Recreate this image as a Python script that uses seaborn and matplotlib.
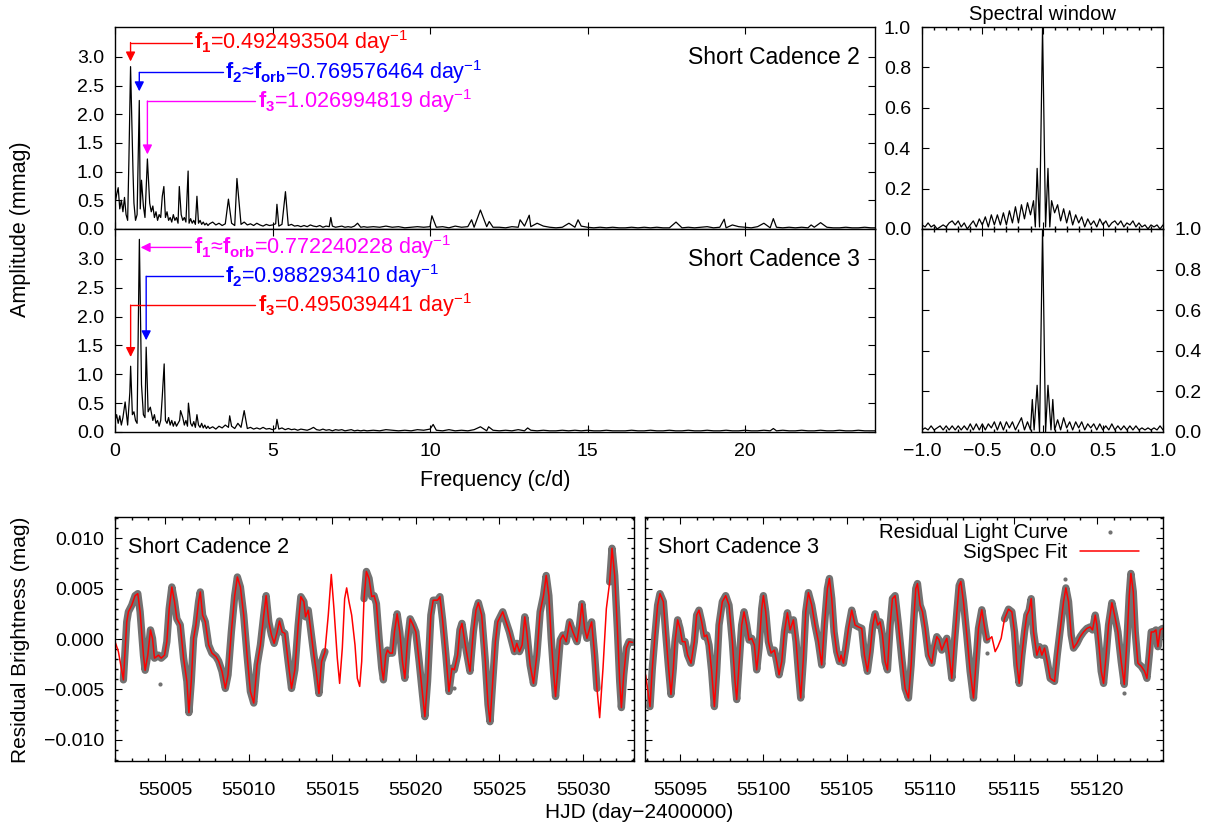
import numpy as np
import matplotlib
matplotlib.use("Agg")
import matplotlib.pyplot as plt
from matplotlib.ticker import MultipleLocator, FixedLocator, FuncFormatter
import seaborn as sns

# ---------------- amplitude spectra (frequency in c/d, amplitude in mmag) ----------------
f_lo = np.round(np.arange(0.0, 3.001, 0.05), 3)
f_mid = np.round(np.arange(3.1, 8.001, 0.1), 3)
f_hi = np.round(np.arange(8.2, 24.201, 0.2), 3)

sc2_noise_lo = [0.45, 0.60, 0.72, 0.35, 0.50, 0.30, 0.55, 0.25, 0.15, 0.30,
                0.35, 0.20, 0.45, 0.15, 0.25, 0.10, 0.35, 0.30, 0.40, 0.20,
                0.35, 0.25, 0.45, 0.30, 0.40, 0.20, 0.30, 0.15, 0.25, 0.20,
                0.15, 0.15, 0.20, 0.30, 0.15, 0.20, 0.12, 0.25, 0.15, 0.20,
                0.10, 0.20, 0.25, 0.15, 0.20, 0.12, 0.15, 0.10, 0.18, 0.10,
                0.15, 0.08, 0.12, 0.10, 0.15, 0.08, 0.12, 0.07, 0.10, 0.06,
                0.09]
sc2_noise_mid = [0.12, 0.07, 0.10, 0.06, 0.09, 0.08, 0.10, 0.06, 0.12, 0.08,
                 0.12, 0.07, 0.09, 0.06, 0.10, 0.07, 0.05, 0.08, 0.06, 0.07,
                 0.09, 0.05, 0.08, 0.10, 0.06, 0.08, 0.05, 0.06, 0.04, 0.06,
                 0.04, 0.07, 0.05, 0.04, 0.06, 0.03, 0.05, 0.04, 0.05, 0.03,
                 0.04, 0.05, 0.03, 0.04, 0.03, 0.05, 0.04, 0.03, 0.04, 0.03]
sc2_noise_hi = [0.04, 0.03, 0.05, 0.03, 0.04, 0.02, 0.03, 0.04, 0.03, 0.04,
                0.03, 0.04, 0.02, 0.05, 0.03, 0.04, 0.03, 0.05, 0.04, 0.03,
                0.03, 0.02, 0.04, 0.03, 0.05, 0.04, 0.03, 0.05, 0.03, 0.02,
                0.03, 0.04, 0.03, 0.05, 0.03, 0.02, 0.03, 0.02, 0.03, 0.02,
                0.02, 0.03, 0.02, 0.03, 0.02, 0.03, 0.02, 0.02, 0.03, 0.02,
                0.03, 0.02, 0.03, 0.04, 0.02, 0.03, 0.02, 0.03, 0.04, 0.03,
                0.02, 0.04, 0.03, 0.02, 0.03, 0.02, 0.03, 0.02, 0.03, 0.02,
                0.03, 0.02, 0.03, 0.02, 0.02, 0.03, 0.02, 0.02, 0.03, 0.02,
                0.02]
sc2_peak_f = [0.44, 0.492493504, 0.57, 0.769576464, 0.84, 1.026994819, 1.50, 1.55,
              2.04, 2.32, 2.60, 3.60, 3.87, 5.14, 5.41, 6.85, 7.70, 10.06, 11.32,
              11.60, 11.88, 12.86, 13.15, 13.40, 14.41, 14.70, 17.81, 19.34, 19.60,
              20.60, 20.90, 22.10, 22.40]
sc2_peak_a = [1.20, 2.83, 1.00, 2.24, 0.85, 1.22, 0.57, 0.74,
              0.74, 1.01, 0.57, 0.52, 0.88, 0.43, 0.65, 0.20, 0.10, 0.23, 0.16,
              0.33, 0.13, 0.16, 0.24, 0.10, 0.10, 0.16, 0.12, 0.17, 0.07,
              0.10, 0.18, 0.07, 0.11]

sc3_noise_lo = [0.20, 0.30, 0.15, 0.28, 0.12, 0.25, 0.20, 0.30, 0.12, 0.25,
                0.20, 0.30, 0.35, 0.20, 0.15, 0.25, 0.30, 0.25, 0.30, 0.25,
                0.25, 0.35, 0.20, 0.25, 0.20, 0.30, 0.15, 0.20, 0.10, 0.20,
                0.15, 0.15, 0.20, 0.15, 0.25, 0.12, 0.20, 0.10, 0.18, 0.10,
                0.15, 0.20, 0.12, 0.25, 0.12, 0.20, 0.10, 0.15, 0.15, 0.10,
                0.18, 0.08, 0.12, 0.12, 0.08, 0.15, 0.07, 0.12, 0.06, 0.10,
                0.06]
sc3_noise_mid = [0.09, 0.05, 0.10, 0.07, 0.12, 0.08, 0.10, 0.06, 0.15, 0.08,
                 0.10, 0.06, 0.08, 0.05, 0.07, 0.05, 0.08, 0.05, 0.06, 0.04,
                 0.06, 0.05, 0.07, 0.04, 0.06, 0.04, 0.05, 0.03, 0.05, 0.04,
                 0.03, 0.05, 0.03, 0.04, 0.03, 0.05, 0.03, 0.04, 0.02, 0.04,
                 0.03, 0.04, 0.02, 0.03, 0.04, 0.02, 0.03, 0.02, 0.03, 0.02]
sc3_noise_hi = [0.03, 0.02, 0.04, 0.03, 0.02, 0.03, 0.02, 0.04, 0.03, 0.05,
                0.03, 0.02, 0.04, 0.02, 0.03, 0.02, 0.04, 0.03, 0.02, 0.03,
                0.02, 0.03, 0.02, 0.04, 0.02, 0.03, 0.02, 0.03, 0.02, 0.02,
                0.03, 0.02, 0.03, 0.02, 0.03, 0.02, 0.02, 0.03, 0.02, 0.02,
                0.02, 0.03, 0.02, 0.02, 0.03, 0.02, 0.02, 0.03, 0.02, 0.02,
                0.03, 0.02, 0.02, 0.03, 0.02, 0.02, 0.03, 0.02, 0.02, 0.03,
                0.02, 0.02, 0.03, 0.02, 0.02, 0.03, 0.02, 0.02, 0.03, 0.02,
                0.02, 0.03, 0.02, 0.02, 0.03, 0.02, 0.02, 0.03, 0.02, 0.02,
                0.02]
sc3_peak_f = [0.32, 0.47, 0.495039441, 0.772240228, 0.84, 0.988293410, 1.12, 1.50,
              1.56, 2.08, 2.33, 2.60, 3.64, 4.10, 5.14, 6.30, 10.10, 11.60, 11.86,
              13.10, 20.90]
sc3_peak_a = [0.52, 0.69, 1.14, 3.34, 0.82, 1.47, 0.43, 0.62,
              1.18, 0.37, 0.50, 0.30, 0.28, 0.37, 0.22, 0.08, 0.13, 0.09, 0.09,
              0.07, 0.06]

# ---------------- spectral windows ----------------
sw1_x = np.concatenate([np.round(np.arange(-1.0, -0.0749, 0.025), 3),
                        [-0.06, -0.045, -0.025, 0.0, 0.025, 0.045, 0.06],
                        np.round(np.arange(0.075, 1.0001, 0.025), 3)])
sw1_y = [0.02, 0.01, 0.03, 0.01, 0.02, 0.00, 0.01, 0.02, 0.01, 0.03,
         0.04, 0.02, 0.04, 0.01, 0.03, 0.00, 0.02, 0.04, 0.01, 0.05,
         0.02, 0.06, 0.01, 0.07, 0.02, 0.07, 0.02, 0.08, 0.02, 0.09,
         0.03, 0.11, 0.03, 0.12, 0.05, 0.13, 0.07, 0.14,
         0.01, 0.30, 0.01, 1.00, 0.01, 0.30, 0.01,
         0.14, 0.08, 0.12, 0.04, 0.10, 0.03, 0.09, 0.02, 0.07, 0.03,
         0.06, 0.01, 0.05, 0.02, 0.04, 0.01, 0.05, 0.02, 0.04, 0.01,
         0.03, 0.04, 0.02, 0.04, 0.01, 0.03, 0.02, 0.04, 0.01, 0.03,
         0.01, 0.02, 0.00, 0.02, 0.01, 0.02, 0.00, 0.02]
sw2_x = np.concatenate([np.round(np.arange(-1.0, -0.1249, 0.025), 3),
                        [-0.1, -0.085, -0.07, -0.045, -0.025, 0.0, 0.025, 0.045, 0.07, 0.085, 0.1],
                        np.round(np.arange(0.125, 1.0001, 0.025), 3)])
sw2_y = [0.01, 0.02, 0.01, 0.03, 0.01, 0.02, 0.03, 0.01, 0.03, 0.01,
         0.03, 0.01, 0.03, 0.01, 0.03, 0.01, 0.04, 0.01, 0.04, 0.01,
         0.04, 0.01, 0.04, 0.02, 0.05, 0.01, 0.05, 0.01, 0.05, 0.02,
         0.05, 0.01, 0.04, 0.07, 0.01, 0.05,
         0.01, 0.16, 0.01, 0.23, 0.00, 1.00, 0.00, 0.23, 0.01, 0.16, 0.01,
         0.06, 0.01, 0.07, 0.02, 0.05, 0.01, 0.05, 0.02, 0.05, 0.01,
         0.04, 0.02, 0.04, 0.01, 0.04, 0.01, 0.03, 0.01, 0.04, 0.01,
         0.03, 0.01, 0.03, 0.01, 0.03, 0.01, 0.03, 0.01, 0.02, 0.01,
         0.02, 0.01, 0.02, 0.01, 0.03, 0.01]

# ---------------- residual light curves (HJD-2400000, mmag) ----------------
sc2_t = [55002.00, 55002.20, 55002.50, 55002.70, 55002.80, 55003.00, 55003.20, 55003.36, 55003.50, 55003.70,
         55003.80, 55003.96, 55004.12, 55004.24, 55004.36, 55004.60, 55004.76, 55004.96, 55005.10, 55005.24,
         55005.40, 55005.56, 55005.70, 55005.90, 55006.10, 55006.30, 55006.42, 55006.56, 55006.70, 55006.84,
         55007.00, 55007.10, 55007.24, 55007.40, 55007.60, 55007.80, 55008.04, 55008.20, 55008.40, 55008.60,
         55008.76, 55008.96, 55009.16, 55009.32, 55009.50, 55009.70, 55009.90, 55010.10, 55010.30, 55010.50,
         55010.70, 55010.90, 55011.04, 55011.20, 55011.36, 55011.52, 55011.70, 55011.84, 55012.00, 55012.16,
         55012.36, 55012.56, 55012.76, 55012.96, 55013.12, 55013.30, 55013.40, 55013.56, 55013.70, 55013.90,
         55014.04, 55014.20, 55014.36, 55014.56, 55014.76, 55014.94, 55015.10, 55015.30, 55015.44, 55015.60,
         55015.74, 55015.86, 55016.00, 55016.16, 55016.36, 55016.50, 55016.64, 55016.76, 55016.90, 55017.04,
         55017.20, 55017.36, 55017.50, 55017.64, 55017.80, 55017.96, 55018.06, 55018.20, 55018.30, 55018.44,
         55018.60, 55018.72, 55018.88, 55019.04, 55019.20, 55019.34, 55019.50, 55019.66, 55019.84, 55020.00,
         55020.20, 55020.40, 55020.54, 55020.70, 55020.90, 55021.04, 55021.30, 55021.44, 55021.60, 55021.80,
         55021.98, 55022.16, 55022.30, 55022.50, 55022.64, 55022.76, 55022.96, 55023.24, 55023.44, 55023.60,
         55023.74, 55023.94, 55024.16, 55024.32, 55024.44, 55024.60, 55024.76, 55024.90, 55025.20, 55025.40,
         55025.60, 55025.80, 55025.90, 55026.04, 55026.20, 55026.36, 55026.52, 55026.64, 55026.84, 55027.04,
         55027.24, 55027.44, 55027.64, 55027.80, 55027.96, 55028.10, 55028.24, 55028.36, 55028.50, 55028.64,
         55028.80, 55029.00, 55029.20, 55029.40, 55029.64, 55029.80, 55029.94, 55030.10, 55030.24, 55030.40,
         55030.52, 55030.70, 55030.84, 55031.00, 55031.20, 55031.40, 55031.60, 55031.74, 55031.90, 55032.06,
         55032.20, 55032.30, 55032.44, 55032.60, 55032.76, 55032.96]
sc2_fit = [-0.26, -1.25, -4.05, 1.70, 2.70, 3.35, 4.30, 4.50, 2.70, -1.60,
           -3.10, -1.60, 0.90, 0.07, -1.90, -1.60, -1.90, -1.60, -0.26, 3.00,
           5.16, 3.70, 2.00, 1.40, -1.90, -4.20, -7.30, -4.20, 0.07, 1.40,
           3.70, 4.67, 2.37, 1.70, -0.60, -1.40, -1.74, -2.20, -3.20, -4.90,
           -3.55, 0.70, 4.30, 6.15, 5.16, 2.37, -1.60, -5.20, -6.35, -2.57,
           -0.60, 2.37, 4.30, 1.70, 0.40, -0.43, 0.70, 1.78, 0.70, 0.56,
           -2.24, -4.90, -3.06, 1.38, 4.20, 3.70, 2.20, 2.86, 1.05, -1.60,
           -3.20, -5.40, -2.24, -1.25, 2.37, 6.40, 3.00, -1.90, -4.40, -0.90,
           4.00, 5.07, 3.70, 2.37, -0.60, -3.90, -4.70, -2.24, 4.00, 6.70,
           6.00, 4.20, 4.30, 3.50, 0.07, -2.90, -4.05, -1.60, -1.10, -1.40,
           -1.40, 0.70, 2.50, 0.70, -2.24, -3.90, -0.26, 2.00, 1.38, 0.70,
           -2.24, -5.50, -7.70, -4.20, 2.37, 3.85, 3.85, 4.20, 1.90, -1.60,
           -5.20, -2.90, -3.06, -1.60, 0.90, 1.55, -0.60, -3.20, 0.70, 2.86,
           3.60, 2.37, -2.24, -6.50, -8.20, -4.20, -0.26, 1.70, 2.70, 1.70,
           0.70, -0.60, -1.25, -0.43, -1.25, -0.60, 2.20, 0.70, -2.57, -4.40,
           -1.60, 2.70, 4.30, 6.30, 4.30, 0.07, -3.20, -5.70, -2.90, -0.10,
           0.40, -0.26, 1.70, 0.70, -0.26, 1.38, 3.50, 1.05, 0.07, 1.05,
           1.70, -1.60, -4.90, -7.80, -2.90, 3.00, 5.66, 9.00, 6.30, 1.05,
           -4.20, -6.80, -3.55, -0.90, -0.26, -0.33]
sc2_gaps = [(55001.9, 55002.42), (55014.6, 55016.85), (55030.95, 55031.45)]
sc2_out_t = [55004.70, 55022.30]
sc2_out_v = [-4.44, -4.90]

sc3_t = [55092.94, 55093.10, 55093.20, 55093.34, 55093.50, 55093.66, 55093.80, 55094.00, 55094.14, 55094.30,
         55094.46, 55094.60, 55094.70, 55094.86, 55095.00, 55095.14, 55095.30, 55095.46, 55095.66, 55095.86,
         55096.00, 55096.14, 55096.30, 55096.46, 55096.60, 55096.74, 55096.90, 55097.06, 55097.20, 55097.34,
         55097.54, 55097.74, 55097.94, 55098.14, 55098.30, 55098.40, 55098.54, 55098.70, 55098.84, 55099.00,
         55099.14, 55099.30, 55099.46, 55099.60, 55099.74, 55099.90, 55100.00, 55100.14, 55100.30, 55100.46,
         55100.66, 55100.80, 55100.94, 55101.10, 55101.26, 55101.44, 55101.60, 55101.80, 55101.96, 55102.10,
         55102.24, 55102.40, 55102.54, 55102.70, 55102.90, 55103.10, 55103.30, 55103.50, 55103.66, 55103.84,
         55103.96, 55104.10, 55104.24, 55104.40, 55104.56, 55104.66, 55104.80, 55104.94, 55105.10, 55105.30,
         55105.50, 55105.70, 55105.90, 55106.06, 55106.24, 55106.40, 55106.56, 55106.70, 55106.86, 55107.00,
         55107.14, 55107.30, 55107.44, 55107.60, 55107.74, 55107.90, 55108.10, 55108.30, 55108.50, 55108.70,
         55108.86, 55109.00, 55109.14, 55109.24, 55109.40, 55109.54, 55109.70, 55109.90, 55110.10, 55110.24,
         55110.40, 55110.54, 55110.70, 55110.86, 55111.00, 55111.14, 55111.30, 55111.46, 55111.62, 55111.74,
         55111.84, 55112.00, 55112.20, 55112.40, 55112.60, 55112.74, 55112.90, 55113.10, 55113.26, 55113.40,
         55113.60, 55113.70, 55113.90, 55114.06, 55114.26, 55114.46, 55114.70, 55114.90, 55115.06, 55115.20,
         55115.34, 55115.50, 55115.66, 55115.80, 55115.94, 55116.06, 55116.20, 55116.40, 55116.56, 55116.70,
         55116.86, 55117.04, 55117.20, 55117.46, 55117.62, 55117.80, 55118.00, 55118.14, 55118.30, 55118.46,
         55118.60, 55118.80, 55119.00, 55119.20, 55119.40, 55119.60, 55119.74, 55119.90, 55120.00, 55120.14,
         55120.26, 55120.40, 55120.54, 55120.70, 55120.90, 55121.06, 55121.26, 55121.46, 55121.64, 55121.80,
         55121.94, 55122.04, 55122.18, 55122.30, 55122.46, 55122.66, 55122.86, 55123.00, 55123.14, 55123.26,
         55123.40, 55123.54, 55123.66, 55123.80, 55123.94]
sc3_fit = [-3.55, -5.50, -6.70, -2.90, 0.40, 3.35, 4.50, 3.70, 0.70, -2.57,
           -5.50, -2.90, -0.26, 1.90, 1.05, -0.26, -0.26, -1.60, -2.40, -0.26,
           2.37, 2.86, 1.70, 0.23, 0.40, -0.60, -3.20, -6.70, -3.20, 1.38,
           3.70, 4.30, 3.35, -0.26, -4.20, -6.00, -2.57, 1.38, 2.70, 1.38,
           -0.10, 0.07, -0.60, -3.06, -0.90, 3.00, 4.30, 2.70, -0.26, -1.40,
           -1.10, -2.24, -3.55, -2.24, 0.70, 2.60, 0.90, 1.90, -0.26, -3.20,
           -5.85, -1.90, 2.70, 4.60, 3.35, 1.38, -0.26, -2.57, 1.38, 5.00,
           6.00, 4.00, 0.70, -1.25, -2.24, -1.60, -2.40, -0.90, 1.05, 2.86,
           1.38, 1.20, 1.05, -1.60, -3.20, -1.25, 1.38, 2.50, 1.38, 1.70,
           0.40, -2.24, -3.06, 1.38, 4.00, 4.30, 1.38, -1.90, -4.90, -5.85,
           -2.57, 1.38, 5.00, 5.50, 3.35, 2.70, 1.05, -1.60, -2.40, -0.90,
           0.23, -0.10, -1.10, -0.43, 0.07, -1.60, -3.90, -0.26, 3.00, 5.30,
           5.70, 3.70, 0.40, -3.20, -5.85, -2.57, 1.05, 2.90, 1.20, -0.10,
           0.07, 0.23, -1.25, -0.76, 0.07, 2.00, 2.96, 2.70, 0.70, -2.57,
           -4.40, -1.60, 0.70, 2.37, 2.86, 4.00, 0.70, -1.60, -0.76, -1.60,
           -0.90, -2.40, -3.90, -4.20, -1.60, 0.90, 3.70, 5.07, 3.70, 0.40,
           -0.90, -0.43, 0.23, 0.70, 1.05, 1.20, 0.90, 2.37, 1.38, -0.90,
           -3.20, -4.40, -1.90, 1.38, 3.60, 2.37, 0.70, -2.24, -4.50, -0.26,
           4.30, 6.50, 4.70, 0.70, -2.40, -2.70, -3.20, -3.90, -1.60, 0.70,
           0.70, 0.90, -0.76, 0.90, 1.05]
sc3_gaps = [(55092.8, 55093.12), (55113.45, 55114.3)]
sc3_out_t = [55113.40, 55118.10, 55121.60]
sc3_out_v = [-1.35, 6.00, -5.40]

# ---------------- style ----------------
sns.set_theme(style="ticks", rc={
    "xtick.direction": "in", "ytick.direction": "in",
    "xtick.top": True, "ytick.right": True,
    "xtick.major.size": 5, "ytick.major.size": 5,
    "xtick.minor.size": 2.5, "ytick.minor.size": 2.5,
    "xtick.major.width": 0.8, "ytick.major.width": 0.8,
    "axes.linewidth": 1.0, "axes.edgecolor": "black",
    "xtick.color": "black", "ytick.color": "black",
    "text.color": "black", "axes.labelcolor": "black",
    "xtick.labelsize": 14, "ytick.labelsize": 14,
    "xtick.major.pad": 8, "ytick.major.pad": 8,
})
plt.rcParams["font.family"] = ["Liberation Sans", "DejaVu Sans"]
plt.rcParams["mathtext.fontset"] = "custom"
plt.rcParams["mathtext.rm"] = "Liberation Sans"
plt.rcParams["mathtext.bf"] = "Liberation Sans:bold"
plt.rcParams["mathtext.it"] = "Liberation Sans:italic"

GRAY = "#727272"
RED, BLUE, MAG = "#ff0000", "#0000ff", "#ff00ff"


def fmt(d):
    def f(v, p):
        if abs(v) < 1e-12:
            v = 0.0
        return f"{v:.{d}f}".replace("-", "\u2212")
    return FuncFormatter(f)


def spectrum(noise, peak_f, peak_a):
    f = np.concatenate([f_lo, f_mid, f_hi])
    a = np.asarray(noise, float)
    pf = np.asarray(peak_f)
    keep = np.array([np.min(np.abs(pf - x)) >= 0.03 for x in f])
    f = np.concatenate([f[keep], pf])
    a = np.concatenate([a[keep], peak_a])
    o = np.argsort(f)
    return f[o], a[o]


def marker_arrow(ax, x_text, y, f_peak, y_tip, color):
    # gnuplot-like elbow arrow: horizontal from the label, then down to the peak
    ax.plot([x_text, f_peak], [y, y], color=color, lw=1.0)
    ax.annotate("", xy=(f_peak, y_tip), xytext=(f_peak, y),
                arrowprops=dict(arrowstyle="-|>", color=color, lw=1.0,
                                mutation_scale=14, shrinkA=0, shrinkB=0))


fig = plt.figure(figsize=(12.11, 8.32), dpi=100)
ax_p1 = fig.add_axes([0.0950, 0.7248, 0.6276, 0.2427])
ax_p2 = fig.add_axes([0.0950, 0.4808, 0.6276, 0.2440])
ax_w1 = fig.add_axes([0.7614, 0.7248, 0.1990, 0.2427])
ax_w2 = fig.add_axes([0.7614, 0.4808, 0.1990, 0.2440])
ax_l = fig.add_axes([0.0950, 0.0853, 0.4286, 0.2933])
ax_r = fig.add_axes([0.5326, 0.0853, 0.4277, 0.2933])

# ---- periodograms ----
for ax, noise, pf, pa, name in [
        (ax_p1, sc2_noise_lo + sc2_noise_mid + sc2_noise_hi, sc2_peak_f, sc2_peak_a, "Short Cadence 2"),
        (ax_p2, sc3_noise_lo + sc3_noise_mid + sc3_noise_hi, sc3_peak_f, sc3_peak_a, "Short Cadence 3")]:
    f, a = spectrum(noise, pf, pa)
    sns.lineplot(x=f, y=a, ax=ax, color="black", lw=0.9, estimator=None, sort=False)
    ax.set_xlim(0, 24.13)
    ax.set_ylim(0, 3.52)
    ax.xaxis.set_major_locator(MultipleLocator(5))
    ax.yaxis.set_major_locator(FixedLocator([0, 0.5, 1.0, 1.5, 2.0, 2.5, 3.0]))
    ax.yaxis.set_major_formatter(fmt(1))
    ax.text(0.98, 0.85, name, transform=ax.transAxes, ha="right", va="center", fontsize=16.5)
    ax.set_xlabel("")
    ax.set_ylabel("")
ax_p1.tick_params(labelbottom=False)

ann = 15.5
# SC2 markers
marker_arrow(ax_p1, 2.43, 3.25, sc2_peak_f[1], 2.92, RED)
ax_p1.text(2.50, 3.25, r"$\mathbf{f_1}$=0.492493504 day$^{-1}$", color=RED, fontsize=ann, va="center")
marker_arrow(ax_p1, 3.42, 2.73, sc2_peak_f[3], 2.40, BLUE)
ax_p1.text(3.50, 2.73, "$\\mathbf{f_2}$\u2248$\\mathbf{f_{orb}}$=0.769576464 day$^{-1}$", color=BLUE, fontsize=ann, va="center")
marker_arrow(ax_p1, 4.45, 2.23, sc2_peak_f[5], 1.30, MAG)
ax_p1.text(4.53, 2.23, r"$\mathbf{f_3}$=1.026994819 day$^{-1}$", color=MAG, fontsize=ann, va="center")
# SC3 markers
ax_p2.annotate("", xy=(sc3_peak_f[3] + 0.04, 3.20), xytext=(2.43, 3.20),
               arrowprops=dict(arrowstyle="-|>", color=MAG, lw=1.0, mutation_scale=14, shrinkA=0, shrinkB=0))
ax_p2.text(2.50, 3.20, "$\\mathbf{f_1}$\u2248$\\mathbf{f_{orb}}$=0.772240228 day$^{-1}$", color=MAG, fontsize=ann, va="center")
marker_arrow(ax_p2, 3.42, 2.70, sc3_peak_f[5], 1.59, BLUE)
ax_p2.text(3.50, 2.70, r"$\mathbf{f_2}$=0.988293410 day$^{-1}$", color=BLUE, fontsize=ann, va="center")
marker_arrow(ax_p2, 4.45, 2.20, sc3_peak_f[2], 1.30, RED)
ax_p2.text(4.53, 2.20, r"$\mathbf{f_3}$=0.495039441 day$^{-1}$", color=RED, fontsize=ann, va="center")

# ---- spectral windows ----
for ax, x, y in [(ax_w1, sw1_x, sw1_y), (ax_w2, sw2_x, sw2_y)]:
    sns.lineplot(x=x, y=y, ax=ax, color="black", lw=0.9, estimator=None, sort=False)
    ax.set_xlim(-1, 1)
    ax.set_ylim(0, 1.0)
    ax.xaxis.set_major_locator(MultipleLocator(0.5))
    ax.xaxis.set_minor_locator(MultipleLocator(0.1))
    ax.yaxis.set_major_locator(MultipleLocator(0.2))
    ax.xaxis.set_major_formatter(fmt(1))
    ax.yaxis.set_major_formatter(fmt(1))
    ax.tick_params(which="both", top=True, right=True)
    ax.set_xlabel("")
    ax.set_ylabel("")
ax_w1.tick_params(labelbottom=False)
ax_w1.set_title("Spectral window", fontsize=14.5, pad=5)
ax_w2.tick_params(labelleft=False, labelright=True)


# ---- light curves ----
def draw_lc(ax, t, v, gaps, out_t, out_v, legend):
    t = np.asarray(t)
    m = np.asarray(v) / 1000.0
    ingap = np.zeros(len(t), bool)
    for a, b in gaps:
        ingap |= (t > a) & (t < b)
    idx = np.flatnonzero(~ingap)
    for seg in np.split(idx, np.flatnonzero(np.diff(idx) > 1) + 1):
        sns.lineplot(x=t[seg], y=m[seg], ax=ax, color=GRAY, lw=5.3, estimator=None,
                     sort=False, solid_capstyle="round", solid_joinstyle="round")
    pts_t = np.concatenate([t[~ingap], out_t])
    pts_v = np.concatenate([m[~ingap], np.asarray(out_v) / 1000.0])
    sns.scatterplot(x=pts_t, y=pts_v, ax=ax, color=GRAY, s=9, linewidth=0,
                    label="Residual Light Curve" if legend else None, legend=False)
    sns.lineplot(x=t, y=m, ax=ax, color=RED, lw=1.1, estimator=None, sort=False,
                 label="SigSpec Fit" if legend else None, legend=False)
    ax.set_ylim(-0.0121, 0.0121)
    ax.xaxis.set_major_locator(MultipleLocator(5))
    ax.xaxis.set_minor_locator(MultipleLocator(1))
    ax.yaxis.set_major_locator(MultipleLocator(0.005))
    ax.yaxis.set_minor_locator(MultipleLocator(0.001))
    ax.yaxis.set_major_formatter(fmt(3))
    ax.xaxis.set_major_formatter(FuncFormatter(lambda v, p: f"{v:.0f}"))
    ax.tick_params(which="both", top=True, right=True)
    ax.tick_params(axis="x", pad=15)
    ax.set_xlabel("")
    ax.set_ylabel("")


draw_lc(ax_l, sc2_t, sc2_fit, sc2_gaps, sc2_out_t, sc2_out_v, False)
ax_l.set_xlim(55002.0, 55033.06)
ax_l.text(0.025, 0.877, "Short Cadence 2", transform=ax_l.transAxes, ha="left", va="center", fontsize=15.5)

draw_lc(ax_r, sc3_t, sc3_fit, sc3_gaps, sc3_out_t, sc3_out_v, True)
ax_r.set_xlim(55092.9, 55123.96)
ax_r.tick_params(labelleft=False)
ax_r.text(0.025, 0.877, "Short Cadence 3", transform=ax_r.transAxes, ha="left", va="center", fontsize=15.5)
h, l = ax_r.get_legend_handles_labels()
order = [l.index("Residual Light Curve"), l.index("SigSpec Fit")]
ax_r.legend([h[i] for i in order], [l[i] for i in order], loc="upper right",
            bbox_to_anchor=(0.958, 0.985), frameon=False, markerfirst=False,
            fontsize=14.7, handlelength=2.9, handletextpad=0.6, labelspacing=0.05,
            borderaxespad=0, borderpad=0.1, markerscale=1.0)

# ---- axis titles ----
fig.text(0.409, 0.422, "Frequency (c/d)", ha="center", va="center", fontsize=15.5)
fig.text(0.017, 0.724, "Amplitude (mmag)", ha="center", va="center", rotation=90, fontsize=15.5)
fig.text(0.528, 0.024, "HJD (day\u22122400000)", ha="center", va="center", fontsize=15)
fig.text(0.017, 0.231, "Residual Brightness (mag)", ha="center", va="center", rotation=90, fontsize=15)

fig.savefig("out.png", dpi=100)
